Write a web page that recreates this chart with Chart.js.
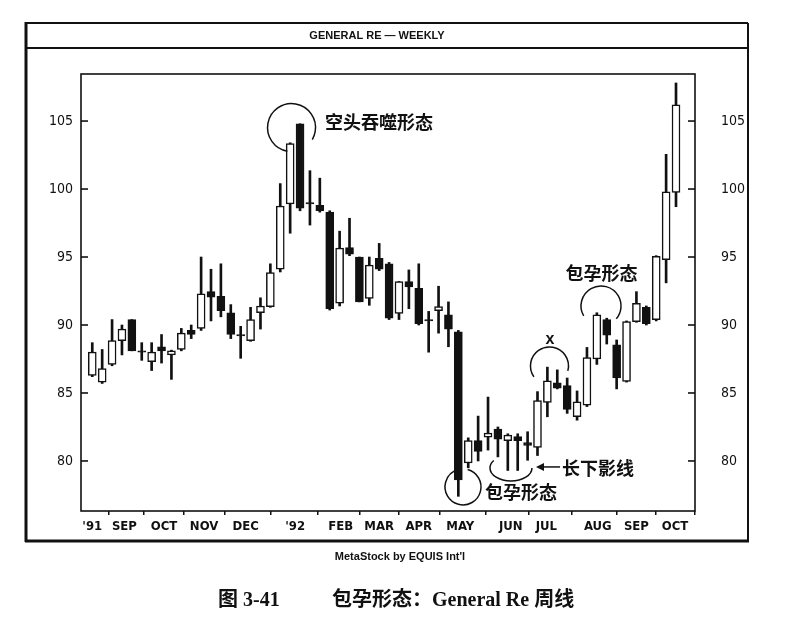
<!DOCTYPE html>
<html>
<head>
<meta charset="utf-8">
<script src="https://cdn.jsdelivr.net/npm/chart.js@4.4.1/dist/chart.umd.min.js"></script>
<style>
  html, body { margin: 0; padding: 0; background: #fff; }
  canvas { display: block; }
</style>
</head>
<body>
<canvas id="myChart" width="804" height="627"></canvas>
<script>
// General Re weekly candles, Aug 1991 - Oct 1992
const opens  = [86.3, 85.8, 87.1, 88.85, 90.4, 88.1, 87.3, 88.4, 87.8, 88.2,
                89.6, 89.75, 92.45, 92.1, 90.9, 89.3, 88.85, 90.9, 91.35, 94.1,
                98.9, 104.8, 99.0, 98.8, 98.3, 91.6, 95.7, 95.0, 91.95, 94.9,
                94.5, 90.85, 93.2, 92.7, 90.4, 91.05, 90.75, 89.5, 79.85, 81.5,
                81.75, 82.35, 81.5, 81.8, 81.35, 81.0, 84.3, 85.75, 85.55, 83.25,
                84.1, 87.5, 90.4, 88.55, 85.85, 90.25, 91.3, 90.4, 94.8, 99.75];
const highs  = [88.7, 88.2, 90.4, 90.0, 90.4, 88.7, 88.7, 89.3, 88.15, 89.75,
                90.0, 95.0, 94.1, 94.5, 91.5, 89.9, 91.3, 92.0, 94.5, 100.4,
                103.4, 104.8, 101.35, 100.8, 98.4, 96.9, 97.85, 95.0, 95.0, 96.0,
                94.6, 93.2, 94.05, 94.5, 91.0, 92.85, 91.7, 89.6, 81.7, 83.3,
                84.7, 82.5, 82.0, 82.0, 82.15, 85.1, 86.9, 86.7, 86.1, 85.15,
                88.35, 90.9, 90.5, 88.9, 90.3, 92.45, 91.4, 95.1, 102.55, 107.8];
const lows   = [86.2, 85.7, 87.0, 87.8, 88.1, 87.4, 86.65, 87.2, 86.0, 88.1,
                89.0, 89.6, 90.3, 90.6, 89.0, 87.55, 88.8, 89.7, 91.3, 93.9,
                96.75, 98.4, 97.35, 98.3, 91.1, 91.4, 95.1, 91.7, 91.45, 94.0,
                90.4, 90.4, 91.2, 90.0, 88.0, 89.4, 88.4, 77.4, 79.5, 80.0,
                80.8, 80.3, 79.3, 79.3, 80.05, 80.4, 83.25, 85.3, 83.5, 83.0,
                84.0, 87.1, 88.6, 85.3, 85.8, 90.2, 90.0, 90.3, 93.1, 98.7];
const closes = [88.0, 86.8, 88.85, 89.7, 88.1, 88.0, 88.0, 88.1, 88.1, 89.4,
                89.3, 92.3, 92.05, 91.05, 89.3, 89.2, 90.4, 91.4, 93.85, 98.75,
                103.35, 98.6, 98.9, 98.4, 91.2, 95.65, 95.2, 91.7, 94.4, 94.1,
                90.5, 93.2, 92.8, 90.1, 90.3, 91.35, 89.7, 78.6, 81.5, 80.7,
                82.05, 81.6, 81.9, 81.5, 81.15, 84.45, 85.9, 85.35, 83.8, 84.35,
                87.6, 90.75, 89.25, 86.1, 90.25, 91.6, 90.1, 95.05, 99.8, 106.2];

const monthLabels = ["'91", "SEP", "OCT", "NOV", "DEC", "'92", "FEB", "MAR",
                     "APR", "MAY", "JUN", "JUL", "AUG", "SEP", "OCT"];
const monthWeeks  = [0, 3.25, 7.25, 11.3, 15.5, 20.5, 25.1, 29.0,
                     33.0, 37.2, 42.3, 45.9, 51.1, 55.0, 58.9];
const priceTicks  = [80, 85, 90, 95, 100, 105];

const weeks = opens.map((_, i) => i);
const bodies = weeks.map(i => ({ x: i, y: [opens[i], closes[i]] }));
const wicks  = weeks.map(i => ({ x: i, y: [lows[i], highs[i]] }));
const bodyColors = weeks.map(i => closes[i] >= opens[i] ? '#fff' : '#111');

const INK = '#111';
const narrow = "'Liberation Sans Narrow', 'DejaVu Sans Condensed', 'Roboto', sans-serif";
const cjkBold = "bold 18px 'Noto Sans CJK SC', sans-serif";

function line(c, x1, y1, x2, y2) {
  c.beginPath(); c.moveTo(x1, y1); c.lineTo(x2, y2); c.stroke();
}

const framePlugin = {
  id: 'frame',
  beforeDraw(chart) {
    const c = chart.ctx;
    c.save();
    c.fillStyle = '#fff';
    c.fillRect(0, 0, chart.width, chart.height);
    c.restore();
  },
  afterDraw(chart) {
    const c = chart.ctx, a = chart.chartArea;
    const xs = chart.scales.x, ys = chart.scales.y;
    const px = v => xs.getPixelForValue(v);
    const py = v => ys.getPixelForValue(v);
    c.save();
    c.strokeStyle = INK;
    c.fillStyle = INK;

    // outer frame + header strip
    c.lineWidth = 2;
    line(c, 26, 23, 748, 23);
    line(c, 748, 23, 748, 541);
    line(c, 26, 48, 748, 48);
    c.lineWidth = 3;
    line(c, 26, 22, 26, 542);
    line(c, 25, 541, 749, 541);
    c.font = "bold 11px 'Liberation Sans', Arial, sans-serif";
    c.textAlign = 'center';
    c.textBaseline = 'middle';
    c.fillText('GENERAL RE \u2014 WEEKLY', 377, 36);

    // plot box and inward price ticks
    c.lineWidth = 1.6;
    c.strokeRect(a.left, a.top, a.right - a.left, a.bottom - a.top);
    priceTicks.forEach(v => {
      line(c, a.left, py(v), a.left + 7, py(v));
      line(c, a.right - 7, py(v), a.right, py(v));
    });

    // annotations
    c.lineWidth = 1.5;
    const deg = d => d * Math.PI / 180;
    const arc = (i, v, r, s, e) => {
      c.beginPath(); c.arc(px(i), py(v), r, deg(s), deg(e)); c.stroke();
    };
    arc(20.14, 104.52, 24, 100, 390);
    arc(46.21, 86.99, 19, 145, 375);
    arc(51.42, 91.4, 20, 150, 400);
    arc(37.47, 78.09, 18, 285, 615);
    c.beginPath();
    c.ellipse(px(42.32), py(79.49), 21, 13, 0, deg(0), deg(215));
    c.stroke();

    // arrow to the long lower shadows
    const ay = py(79.56);
    line(c, px(44.85) + 4, ay, px(47.28), ay);
    c.beginPath();
    c.moveTo(px(44.85), ay);
    c.lineTo(px(44.85) + 8, ay - 4);
    c.lineTo(px(44.85) + 8, ay + 4);
    c.closePath();
    c.fill();

    c.font = cjkBold;
    c.textBaseline = 'middle';
    c.textAlign = 'left';
    c.fillText('空头吞噬形态', px(23.52), py(104.95));
    c.fillText('包孕形态', px(39.7), py(77.72));
    c.fillText('长下影线', px(47.48), py(79.5));
    c.textAlign = 'center';
    c.fillText('包孕形态', px(51.47), py(93.82));
    c.font = "bold 16px 'Liberation Sans', Arial, sans-serif";
    c.fillText('x', px(46.27), py(88.95));

    // credits and caption under the frame
    c.font = "bold 11px 'Liberation Sans', Arial, sans-serif";
    c.fillText("MetaStock by EQUIS Int'l", 400, 557);
    c.textAlign = 'left';
    c.font = "bold 20px 'Liberation Serif', 'Noto Sans CJK SC', serif";
    c.fillText('图 3-41', 218, 601);
    c.fillText('包孕形态：General Re 周线', 332, 601);
    c.restore();
  }
};

new Chart('myChart', {
  type: 'bar',
  data: {
    datasets: [{
      label: 'body',
      data: bodies,
      backgroundColor: bodyColors,
      borderColor: INK,
      borderWidth: 1.5,
      borderSkipped: false,
      barThickness: 8,
      grouped: false
    }, {
      label: 'wick',
      data: wicks,
      backgroundColor: INK,
      borderWidth: 0,
      barThickness: 2,
      grouped: false
    }]
  },
  options: {
    responsive: false,
    animation: false,
    layout: { padding: { top: 74 } },
    plugins: { legend: { display: false }, tooltip: { enabled: false } },
    scales: {
      x: {
        type: 'linear',
        min: -1.14,
        max: 60.92,
        offset: false,
        afterBuildTicks: s => { s.ticks = monthWeeks.map(v => ({ value: v })); },
        afterFit: s => { s.height = 627 - 511; },
        ticks: {
          autoSkip: false, maxRotation: 0, padding: 4, color: INK,
          font: { family: narrow, size: 13, weight: 'bold' },
          callback: (v, i) => monthLabels[i]
        },
        grid: { drawOnChartArea: false, tickLength: 4, color: INK, lineWidth: 1.5 },
        border: { display: false }
      },
      y: {
        position: 'left',
        min: 76.32,
        max: 108.46,
        afterFit: s => { s.width = 81; },
        ticks: { stepSize: 5, includeBounds: false, padding: 8, color: INK, font: { family: narrow, size: 14 } },
        grid: { display: false, drawTicks: false },
        border: { display: false }
      },
      y2: {
        position: 'right',
        min: 76.32,
        max: 108.46,
        afterFit: s => { s.width = 804 - 695; },
        ticks: { stepSize: 5, includeBounds: false, padding: 26, color: INK, font: { family: narrow, size: 14 } },
        grid: { display: false, drawTicks: false },
        border: { display: false }
      }
    }
  },
  plugins: [framePlugin]
});
</script>
</body>
</html>
